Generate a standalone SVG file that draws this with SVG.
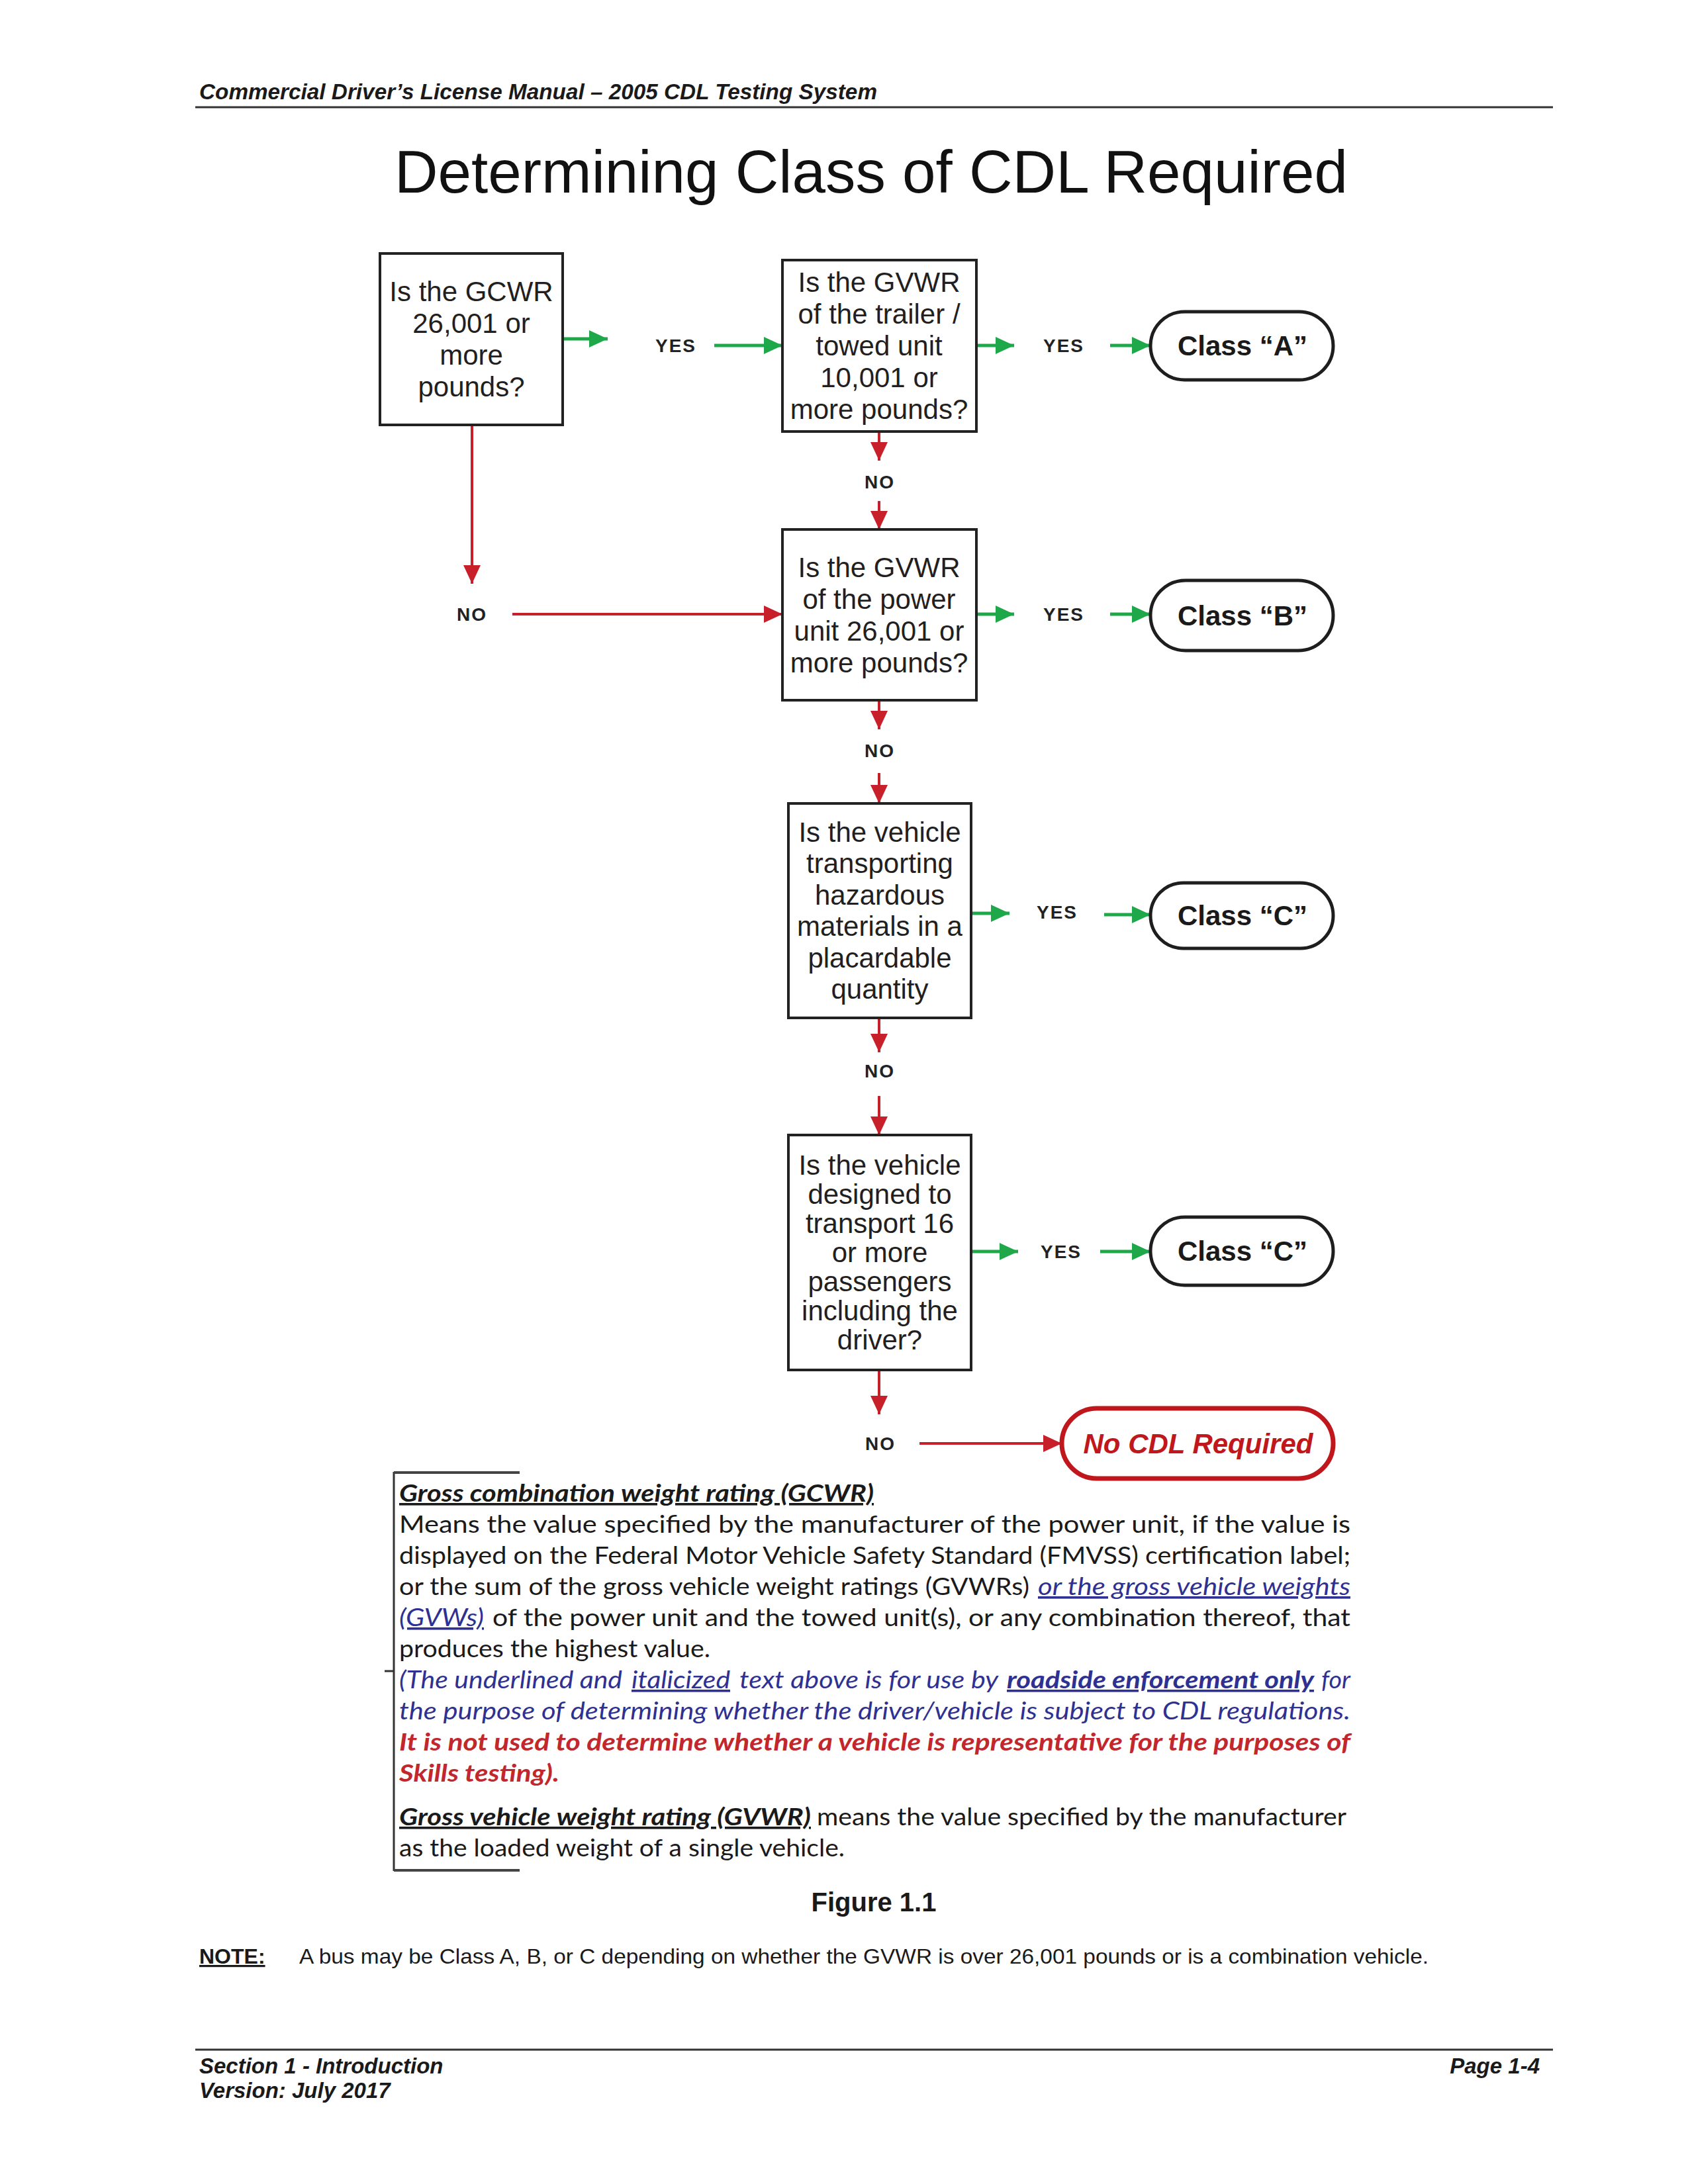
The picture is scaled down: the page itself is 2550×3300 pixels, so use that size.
<svg xmlns="http://www.w3.org/2000/svg" width="2550" height="3300" viewBox="0 0 2550 3300">
<style>
.hdr{font-family:"Liberation Sans",Arial,sans-serif;font-weight:bold;font-style:italic;font-size:33px;fill:#1a1a1a}
.title{font-family:"Liberation Sans",Arial,sans-serif;font-size:90px;fill:#111}
.box{fill:#fff;stroke:#222;stroke-width:4}
.bt{font-family:"Liberation Sans",Arial,sans-serif;font-size:42px;fill:#231f20;text-anchor:middle}
.pill{fill:#fff;stroke:#1e1e1e;stroke-width:5}
.pillred{fill:#fff;stroke:#c0171d;stroke-width:7}
.pt{font-family:"Liberation Sans",Arial,sans-serif;font-weight:bold;font-size:42px;fill:#1a1a1a;text-anchor:middle}
.ptr{font-family:"Liberation Sans",Arial,sans-serif;font-weight:bold;font-style:italic;font-size:42px;fill:#c0171d;text-anchor:middle}
.lbl{font-family:"Liberation Sans",Arial,sans-serif;font-weight:bold;font-size:28px;fill:#222;text-anchor:middle;letter-spacing:2px}
.g{stroke:#1fa84a;stroke-width:5;fill:none}
.r{stroke:#c8202a;stroke-width:4;fill:none}
.d{font-family:Lato,"Open Sans",sans-serif;font-size:36px;fill:#1a1a1a}
.blue{fill:#2e3192;font-style:italic}
.red{fill:#c1272d;font-style:italic;font-weight:bold}
.bi{font-style:italic;font-weight:bold}
.u{text-decoration:underline}
.rule{stroke:#333;stroke-width:3}
.note{font-family:"Liberation Sans",Arial,sans-serif;font-size:32px;fill:#1a1a1a}
</style>
<defs>
<marker id="ag" markerUnits="userSpaceOnUse" markerWidth="30" markerHeight="26" refX="28" refY="13" orient="auto"><path d="M0,0 L28,13 L0,26 z" fill="#1fa84a"/></marker>
<marker id="ar" markerUnits="userSpaceOnUse" markerWidth="30" markerHeight="26" refX="28" refY="13" orient="auto"><path d="M0,0 L28,13 L0,26 z" fill="#c8202a"/></marker>
</defs>
<rect width="2550" height="3300" fill="#fff"/>

<g id="header">
<text class="hdr" x="301" y="150" textLength="1024" lengthAdjust="spacingAndGlyphs">Commercial Driver’s License Manual – 2005 CDL Testing System</text>
<line class="rule" x1="295" y1="162" x2="2346" y2="162"/>
</g>
<text id="title" class="title" x="596" y="291" textLength="1440" lengthAdjust="spacingAndGlyphs">Determining Class of CDL Required</text>

<g id="connectors">
<line class="g" x1="850" y1="512" x2="918" y2="512" marker-end="url(#ag)"/>
<line class="g" x1="1079" y1="522" x2="1182" y2="522" marker-end="url(#ag)"/>
<line class="g" x1="1475" y1="522" x2="1532" y2="522" marker-end="url(#ag)"/>
<line class="g" x1="1677" y1="522" x2="1738" y2="522" marker-end="url(#ag)"/>
<line class="r" x1="1328" y1="652" x2="1328" y2="696" marker-end="url(#ar)"/>
<line class="r" x1="1328" y1="757" x2="1328" y2="800" marker-end="url(#ar)"/>
<line class="r" x1="713" y1="642" x2="713" y2="882" marker-end="url(#ar)"/>
<line class="r" x1="774" y1="928" x2="1182" y2="928" marker-end="url(#ar)"/>
<line class="g" x1="1475" y1="928" x2="1532" y2="928" marker-end="url(#ag)"/>
<line class="g" x1="1677" y1="928" x2="1738" y2="928" marker-end="url(#ag)"/>
<line class="r" x1="1328" y1="1058" x2="1328" y2="1102" marker-end="url(#ar)"/>
<line class="r" x1="1328" y1="1168" x2="1328" y2="1214" marker-end="url(#ar)"/>
<line class="g" x1="1467" y1="1380" x2="1525" y2="1380" marker-end="url(#ag)"/>
<line class="g" x1="1668" y1="1382" x2="1738" y2="1382" marker-end="url(#ag)"/>
<line class="r" x1="1328" y1="1538" x2="1328" y2="1590" marker-end="url(#ar)"/>
<line class="r" x1="1328" y1="1656" x2="1328" y2="1715" marker-end="url(#ar)"/>
<line class="g" x1="1467" y1="1891" x2="1538" y2="1891" marker-end="url(#ag)"/>
<line class="g" x1="1662" y1="1891" x2="1738" y2="1891" marker-end="url(#ag)"/>
<line class="r" x1="1328" y1="2070" x2="1328" y2="2137" marker-end="url(#ar)"/>
<line class="r" x1="1389" y1="2181" x2="1604" y2="2181" marker-end="url(#ar)"/>
<text class="lbl" x="1021" y="532">YES</text>
<text class="lbl" x="1607" y="532">YES</text>
<text class="lbl" x="1329" y="738">NO</text>
<text class="lbl" x="713" y="938">NO</text>
<text class="lbl" x="1607" y="938">YES</text>
<text class="lbl" x="1329" y="1144">NO</text>
<text class="lbl" x="1597" y="1388">YES</text>
<text class="lbl" x="1329" y="1628">NO</text>
<text class="lbl" x="1603" y="1901">YES</text>
<text class="lbl" x="1330" y="2191">NO</text>
</g>

<g id="q1">
<rect class="box" x="574" y="383" width="276" height="259"/>
<text class="bt" x="712" y="455">Is the GCWR</text>
<text class="bt" x="712" y="503">26,001 or</text>
<text class="bt" x="712" y="551">more</text>
<text class="bt" x="712" y="599">pounds?</text>
</g>
<g id="q2">
<rect class="box" x="1182" y="393" width="293" height="259"/>
<text class="bt" x="1328" y="441">Is the GVWR</text>
<text class="bt" x="1328" y="489">of the trailer /</text>
<text class="bt" x="1328" y="537">towed unit</text>
<text class="bt" x="1328" y="585">10,001 or</text>
<text class="bt" x="1328" y="633">more pounds?</text>
</g>
<g id="q3">
<rect class="box" x="1182" y="800" width="293" height="258"/>
<text class="bt" x="1328" y="872">Is the GVWR</text>
<text class="bt" x="1328" y="920">of the power</text>
<text class="bt" x="1328" y="968">unit 26,001 or</text>
<text class="bt" x="1328" y="1016">more pounds?</text>
</g>
<g id="q4">
<rect class="box" x="1191" y="1214" width="276" height="324"/>
<text class="bt" x="1329" y="1272">Is the vehicle</text>
<text class="bt" x="1329" y="1319">transporting</text>
<text class="bt" x="1329" y="1367">hazardous</text>
<text class="bt" x="1329" y="1414">materials in a</text>
<text class="bt" x="1329" y="1462">placardable</text>
<text class="bt" x="1329" y="1509">quantity</text>
</g>
<g id="q5">
<rect class="box" x="1191" y="1715" width="276" height="355"/>
<text class="bt" x="1329" y="1775">Is the vehicle</text>
<text class="bt" x="1329" y="1819">designed to</text>
<text class="bt" x="1329" y="1863">transport 16</text>
<text class="bt" x="1329" y="1907">or more</text>
<text class="bt" x="1329" y="1951">passengers</text>
<text class="bt" x="1329" y="1995">including the</text>
<text class="bt" x="1329" y="2039">driver?</text>
</g>
<g id="classA">
<rect class="pill" x="1738" y="471" width="276" height="103" rx="51.5"/>
<text class="pt" x="1877" y="537">Class “A”</text>
</g>
<g id="classB">
<rect class="pill" x="1738" y="877" width="276" height="106" rx="53"/>
<text class="pt" x="1877" y="945">Class “B”</text>
</g>
<g id="classC1">
<rect class="pill" x="1738" y="1334" width="276" height="99" rx="49.5"/>
<text class="pt" x="1877" y="1398">Class “C”</text>
</g>
<g id="classC2">
<rect class="pill" x="1738" y="1839" width="276" height="103" rx="51.5"/>
<text class="pt" x="1877" y="1905">Class “C”</text>
</g>
<g id="noCDL">
<rect class="pillred" x="1604" y="2128" width="410" height="106" rx="53"/>
<text class="ptr" x="1810" y="2196">No CDL Required</text>
</g>

<g id="definitions">
<line stroke="#333" stroke-width="3" x1="595" y1="2224" x2="595" y2="2827"/>
<line stroke="#444" stroke-width="4" x1="595" y1="2225" x2="785" y2="2225"/>
<line stroke="#444" stroke-width="4" x1="595" y1="2826" x2="785" y2="2826"/>
<line stroke="#333" stroke-width="3" x1="581" y1="2525" x2="595" y2="2525"/>
<text class="d bi u" x="603" y="2269" textLength="717" lengthAdjust="spacingAndGlyphs">Gross combination weight rating (GCWR)</text>
<text class="d" x="603" y="2316" textLength="1437" lengthAdjust="spacingAndGlyphs">Means the value specified by the manufacturer of the power unit, if the value is</text>
<text class="d" x="603" y="2363" textLength="1437" lengthAdjust="spacingAndGlyphs">displayed on the Federal Motor Vehicle Safety Standard (FMVSS) certification label;</text>
<text class="d" x="603" y="2410" textLength="952" lengthAdjust="spacingAndGlyphs">or the sum of the gross vehicle weight ratings (GVWRs)</text>
<text class="d blue u" x="1568" y="2410" textLength="472" lengthAdjust="spacingAndGlyphs">or the gross vehicle weights</text>
<text class="d blue u" x="603" y="2457" textLength="128" lengthAdjust="spacingAndGlyphs">(GVWs)</text>
<text class="d" x="744" y="2457" textLength="1296" lengthAdjust="spacingAndGlyphs">of the power unit and the towed unit(s), or any combination thereof, that</text>
<text class="d" x="603" y="2504" textLength="470" lengthAdjust="spacingAndGlyphs">produces the highest value.</text>
<text class="d blue" x="603" y="2551" textLength="337" lengthAdjust="spacingAndGlyphs">(The underlined and</text>
<text class="d blue u" x="954" y="2551" textLength="149" lengthAdjust="spacingAndGlyphs">italicized</text>
<text class="d blue" x="1117" y="2551" textLength="391" lengthAdjust="spacingAndGlyphs">text above is for use by</text>
<text class="d blue bi u" x="1521" y="2551" textLength="464" lengthAdjust="spacingAndGlyphs">roadside enforcement only</text>
<text class="d blue" x="1996" y="2551" textLength="44" lengthAdjust="spacingAndGlyphs">for</text>
<text class="d blue" x="603" y="2598" textLength="1437" lengthAdjust="spacingAndGlyphs">the purpose of determining whether the driver/vehicle is subject to CDL regulations.</text>
<text class="d red" x="603" y="2645" textLength="1437" lengthAdjust="spacingAndGlyphs">It is not used to determine whether a vehicle is representative for the purposes of</text>
<text class="d red" x="603" y="2692" textLength="242" lengthAdjust="spacingAndGlyphs">Skills testing).</text>
<text class="d bi u" x="603" y="2758" textLength="622" lengthAdjust="spacingAndGlyphs">Gross vehicle weight rating (GVWR)</text>
<text class="d" x="1234" y="2758" textLength="800" lengthAdjust="spacingAndGlyphs">means the value specified by the manufacturer</text>
<text class="d" x="603" y="2805" textLength="673" lengthAdjust="spacingAndGlyphs">as the loaded weight of a single vehicle.</text>
</g>

<text id="caption" x="1320" y="2888" font-family="Liberation Sans, Arial, sans-serif" font-weight="bold" font-size="40" fill="#1a1a1a" text-anchor="middle">Figure 1.1</text>
<g id="note">
<text class="note" x="301" y="2967" font-weight="bold" text-decoration="underline">NOTE:</text>
<text class="note" x="452" y="2967" textLength="1706" lengthAdjust="spacingAndGlyphs">A bus may be Class A, B, or C depending on whether the GVWR is over 26,001 pounds or is a combination vehicle.</text>
</g>
<g id="footer">
<line class="rule" x1="295" y1="3097" x2="2346" y2="3097"/>
<text class="hdr" x="301" y="3133">Section 1 - Introduction</text>
<text class="hdr" x="301" y="3170">Version: July 2017</text>
<text class="hdr" x="2326" y="3133" text-anchor="end">Page 1-4</text>
</g>
</svg>
